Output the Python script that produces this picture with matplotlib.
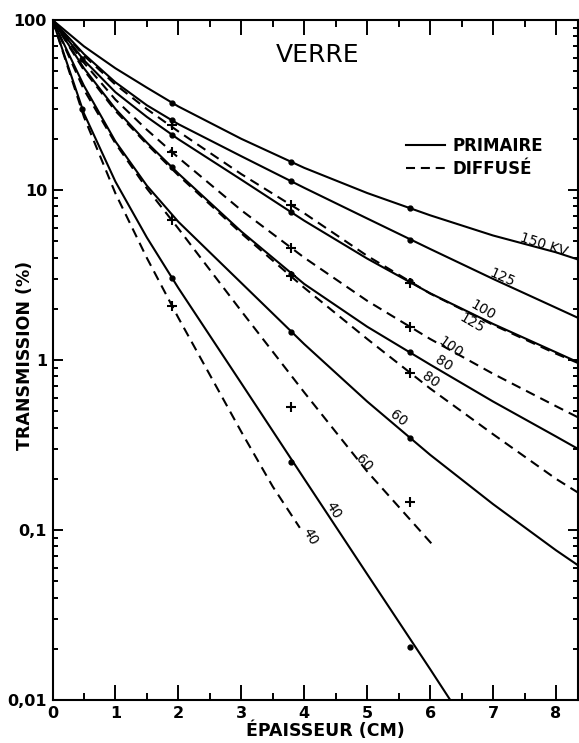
import matplotlib
matplotlib.use('Agg')
import matplotlib.pyplot as plt
from matplotlib.lines import Line2D
from matplotlib.ticker import LogLocator, MultipleLocator, NullFormatter

plt.rcParams['font.family'] = ['DejaVu Sans']
plt.rcParams['lines.scale_dashes'] = False

# épaisseur (cm) where the curves were read
x_grid = [0, 0.5, 1, 1.5, 2, 3, 4, 5, 6, 7, 8, 8.35]

# primaire (solid) transmission, %
prim_150 = [100, 70, 52, 40, 31, 20, 13.5, 9.6, 7.1, 5.4, 4.3, 3.9]
prim_125 = [100, 63, 43, 31.5, 24.4, 15.8, 10.3, 6.8, 4.5, 3.0, 2.03, 1.77]
prim_100 = [100, 58, 37.6, 26.9, 19.9, 11.5, 6.6, 3.95, 2.47, 1.63, 1.11, 0.97]
prim_80 = [100, 52, 30, 19, 12.5, 5.7, 2.8, 1.57, 0.94, 0.57, 0.355, 0.30]
prim_60 = [100, 41, 19.3, 10.6, 6.5, 2.84, 1.24, 0.57, 0.277, 0.142, 0.076, 0.062]
x_prim_40 = [0, 0.5, 1, 1.5, 2, 3, 4, 5, 6, 6.32]
prim_40 = [100, 28.2, 11.2, 5.25, 2.65, 0.73, 0.2, 0.055, 0.0152, 0.01]

# diffusé (dashed) transmission, %
diff_125 = [100, 61.7, 41.7, 29.9, 22.1, 12.4, 7.3, 4.1, 2.46, 1.61, 1.09, 0.96]
diff_100 = [100, 56, 34, 22.6, 15.5, 7.6, 4.0, 2.23, 1.33, 0.83, 0.535, 0.46]
diff_80 = [100, 50.7, 29.2, 18.6, 12.2, 5.56, 2.66, 1.33, 0.68, 0.366, 0.2, 0.166]
x_diff_60 = [0, 0.5, 1, 1.5, 2, 3, 4, 5, 6, 6.08]
diff_60 = [100, 38.9, 18.8, 10.2, 5.93, 1.94, 0.645, 0.221, 0.085, 0.079]
x_diff_40 = [0, 0.5, 1, 1.5, 2, 3, 3.5, 3.93]
diff_40 = [100, 26.9, 9.55, 3.98, 1.77, 0.378, 0.18, 0.103]

# measured points
dot_x = [0.47, 0.47, 1.9, 1.9, 1.9, 1.9, 1.9,
         3.79, 3.79, 3.79, 3.79, 3.79, 3.79,
         5.68, 5.68, 5.68, 5.68, 5.68, 5.68]
dot_y = [59, 30, 32.5, 25.8, 21, 13.6, 3.03,
         14.6, 11.3, 7.4, 3.2, 1.46, 0.25,
         7.8, 5.08, 2.9, 1.11, 0.347, 0.0205]
cross_x = [1.9, 1.9, 1.9, 1.9, 3.79, 3.79, 3.79, 3.79, 5.68, 5.68, 5.68, 5.68]
cross_y = [24, 16.7, 6.66, 2.08, 8.2, 4.56, 3.1, 0.53, 2.84, 1.56, 0.84, 0.146]

# curve labels: text, x, y, angle
curve_labels = [
    ('150 KV', 7.80, 4.74, -18),
    ('125', 7.15, 3.03, -24),
    ('100', 6.84, 1.97, -30),
    ('125', 6.67, 1.65, -30),
    ('100', 6.32, 1.18, -35),
    ('80', 6.21, 0.96, -33),
    ('80', 6.00, 0.76, -35),
    ('60', 5.49, 0.456, -38),
    ('60', 4.94, 0.248, -48),
    ('40', 4.46, 0.131, -58),
    ('40', 4.09, 0.091, -60),
]

fig = plt.figure(figsize=(5.79, 7.43), dpi=100)
ax = fig.add_axes([52.5 / 579, 43 / 743, 525.5 / 579, 680 / 743])

dash = (7, 4.5)
for ys in [prim_150, prim_125, prim_100, prim_80, prim_60]:
    ax.plot(x_grid, ys, color='black', lw=1.5)
ax.plot(x_prim_40, prim_40, color='black', lw=1.5)
for ys in [diff_125, diff_100, diff_80]:
    ax.plot(x_grid, ys, color='black', lw=1.5, dashes=dash)
ax.plot(x_diff_60, diff_60, color='black', lw=1.5, dashes=dash)
ax.plot(x_diff_40, diff_40, color='black', lw=1.5, dashes=dash)

ax.plot(dot_x, dot_y, 'o', ms=3.5, color='black', ls='none')
ax.plot(cross_x, cross_y, '+', ms=7, mew=1.5, color='black', ls='none')

for txt, lx, ly, rot in curve_labels:
    ax.text(lx, ly, txt, fontsize=10, rotation=rot, ha='center', va='center',
            rotation_mode='anchor')

ax.set_yscale('log')
ax.set_xlim(0, 8.35)
ax.set_ylim(0.01, 100)

ax.set_xticks(range(9), [str(i) for i in range(9)], fontweight='bold', fontsize=11.5)
ax.xaxis.set_minor_locator(MultipleLocator(0.5))
ax.set_yticks([0.01, 0.1, 1, 10, 100], ['0,01', '0,1', '1', '10', '100'],
              fontweight='bold', fontsize=11.5)
ax.yaxis.set_minor_locator(LogLocator(base=10, subs=range(2, 10)))
ax.yaxis.set_minor_formatter(NullFormatter())

ax.tick_params(which='both', direction='in', top=True, right=True, width=1.4)
ax.tick_params(axis='x', which='major', length=11, pad=4)
ax.tick_params(axis='x', which='minor', length=5)
ax.tick_params(axis='y', which='major', length=7, pad=4)
ax.tick_params(axis='y', which='minor', length=3.5)
for sp in ax.spines.values():
    sp.set_linewidth(1.5)

ax.set_xlabel('ÉPAISSEUR (CM)', fontweight='bold', fontsize=12.5)
ax.xaxis.set_label_coords(0.519, -0.032)
ax.set_ylabel('TRANSMISSION (%)', fontweight='bold', fontsize=12.5)
ax.yaxis.set_label_coords(-0.036, 0.507)

ax.text(0.505, 0.949, 'VERRE', transform=ax.transAxes, fontsize=18,
        ha='center', va='center')

handles = [Line2D([], [], color='black', lw=1.5),
           Line2D([], [], color='black', lw=1.5, dashes=(6.5, 4.2))]
ax.legend(handles, ['PRIMAIRE', 'DIFFUSÉ'], loc='upper left',
          bbox_to_anchor=(0.673, 0.828), frameon=False, handlelength=2.35,
          handletextpad=0.45, labelspacing=0.3, borderpad=0, borderaxespad=0,
          prop={'weight': 'bold', 'size': 12})

fig.savefig('out.png', dpi=100)
